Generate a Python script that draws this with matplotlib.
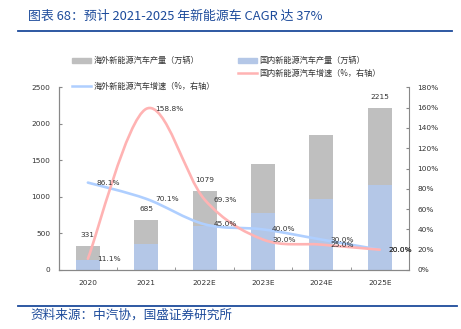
import matplotlib
matplotlib.use("Agg")
import matplotlib.pyplot as plt
import numpy as np
from matplotlib.path import Path
from matplotlib.patches import PathPatch, Patch
from matplotlib.lines import Line2D

plt.rcParams["font.family"] = ["DejaVu Sans", "Noto Sans CJK SC"]
CJK = ["Noto Sans CJK SC", "DejaVu Sans"]

# data
years = ["2020", "2021", "2022E", "2023E", "2024E", "2025E"]
domestic = [137, 354, 599, 779, 973, 1168]        # 国内新能源汽车产量（万辆）
overseas = [194, 331, 480, 672, 874, 1047]        # 海外新能源汽车产量（万辆）
domestic_growth = [11.1, 158.8, 69.3, 30.0, 25.0, 20.0]
overseas_growth = [86.1, 70.1, 45.0, 40.0, 30.0, 20.0]
total_labels = ["331", "685", "1079", "", "", "2215"]

GRAY = "#BFBFBF"
BLUE_BAR = "#B4C7E7"
RED_LINE = "#FFB3B3"
BLUE_LINE = "#AFCFFF"
NAVY = "#1D4B9B"
TXT = "#333333"

W, H = 461, 329
fig = plt.figure(figsize=(W / 100, H / 100), dpi=100)

# title, rules and source
fig.text(28 / W, 1 - 16 / H, "图表 68：预计 2021-2025 年新能源车 CAGR 达 37%",
         family=CJK, fontsize=9.3, color=NAVY, va="center", ha="left", style="italic")
fig.add_artist(Line2D([18 / W, 452 / W], [1 - 31 / H] * 2, color=NAVY, lw=1.3))
fig.add_artist(Line2D([18 / W, 457 / W], [1 - 306 / H] * 2, color=NAVY, lw=1.3))
fig.text(30 / W, 1 - 315 / H, "资料来源：中汽协，国盛证券研究所",
         family=CJK, fontsize=9.1, color=NAVY, va="center", ha="left", style="italic")

ax = fig.add_axes([58.7 / W, 1 - 270 / H, (409 - 58.7) / W, (270 - 87.3) / H])
ax2 = ax.twinx()

x = np.arange(len(years))
bw = 0.41
ax.bar(x, domestic, bw, color=BLUE_BAR, zorder=2)
ax.bar(x, overseas, bw, bottom=domestic, color=GRAY, zorder=2)
totals = np.array(domestic) + np.array(overseas)
for xi, t, lab in zip(x, totals, total_labels):
    if lab:
        ax.annotate(lab, (xi, t), xytext=(0, 8), textcoords="offset points",
                    ha="center", va="center", fontsize=5.3, color=TXT)

ax.set_xlim(-0.5, len(years) - 0.5)
ax.set_ylim(0, 2500)
ax.set_yticks(range(0, 2501, 500))
ax.set_xticks(x)
ax.set_xticklabels(years)
ax.set_xticks(np.arange(-0.5, len(years)), minor=True)
ax.tick_params(axis="x", which="major", length=0, pad=7, labelsize=5.3, labelcolor=TXT)
ax.tick_params(axis="x", which="minor", direction="in", length=2.5, color="#888888")
ax.tick_params(axis="y", direction="in", length=2.5, color="#888888", pad=6,
               labelsize=5.3, labelcolor=TXT)


def smooth(axis, xs, ys, color):
    # Catmull-Rom style smoothing drawn as cubic Bezier path
    pts = np.column_stack([xs, ys]).astype(float)
    ext = np.vstack([pts[0], pts, pts[-1]])
    verts = [pts[0]]
    codes = [Path.MOVETO]
    for i in range(len(pts) - 1):
        p0, p1, p2, p3 = ext[i], ext[i + 1], ext[i + 2], ext[i + 3]
        verts += [p1 + (p2 - p0) / 6, p2 - (p3 - p1) / 6, p2]
        codes += [Path.CURVE4] * 3
    axis.add_patch(PathPatch(Path(verts, codes), fill=False, edgecolor=color,
                             lw=1.9, zorder=3, capstyle="round"))


smooth(ax2, x, overseas_growth, BLUE_LINE)
smooth(ax2, x, domestic_growth, RED_LINE)
for xi, v in zip(x, domestic_growth):
    ax2.annotate(f"{v:.1f}%", (xi, v), xytext=(6.5, 0), textcoords="offset points",
                 ha="left", va="center", fontsize=5.3, color=TXT, zorder=5)
for xi, v in zip(x, overseas_growth):
    ax2.annotate(f"{v:.1f}%", (xi, v), xytext=(6.5, 0), textcoords="offset points",
                 ha="left", va="center", fontsize=5.3, color=TXT, zorder=5)

ax2.set_ylim(0, 180)
ax2.set_yticks(range(0, 181, 20))
ax2.set_yticklabels([f"{v}%" for v in range(0, 181, 20)])
ax2.tick_params(axis="y", direction="in", length=2.5, color="#888888", pad=6,
                labelsize=5.3, labelcolor=TXT)

for a in (ax, ax2):
    a.spines["top"].set_visible(False)
    for s in ("left", "right", "bottom"):
        a.spines[s].set_color("#888888")
        a.spines[s].set_linewidth(0.8)
ax.spines["right"].set_visible(False)

# legend
blank = Line2D([], [], alpha=0)
leg_kw = dict(frameon=False, prop={"family": CJK, "size": 5.9}, handlelength=2.3,
              handleheight=0.6, handletextpad=0.35, labelspacing=0.45, borderpad=0,
              borderaxespad=0, loc="upper left", labelcolor=TXT)
leg1 = fig.legend([Patch(color=GRAY), blank, Line2D([], [], color=BLUE_LINE, lw=1.8)],
                  ["海外新能源汽车产量（万辆）", "", "海外新能源汽车增速（%，右轴）"],
                  bbox_to_anchor=(72 / W, 1 - 56 / H), **leg_kw)
leg2 = fig.legend([Patch(color=BLUE_BAR), Line2D([], [], color=RED_LINE, lw=1.8)],
                  ["国内新能源汽车产量（万辆）", "国内新能源汽车增速（%，右轴）"],
                  bbox_to_anchor=(238 / W, 1 - 56 / H), **leg_kw)

fig.savefig("out.png", dpi=100)
